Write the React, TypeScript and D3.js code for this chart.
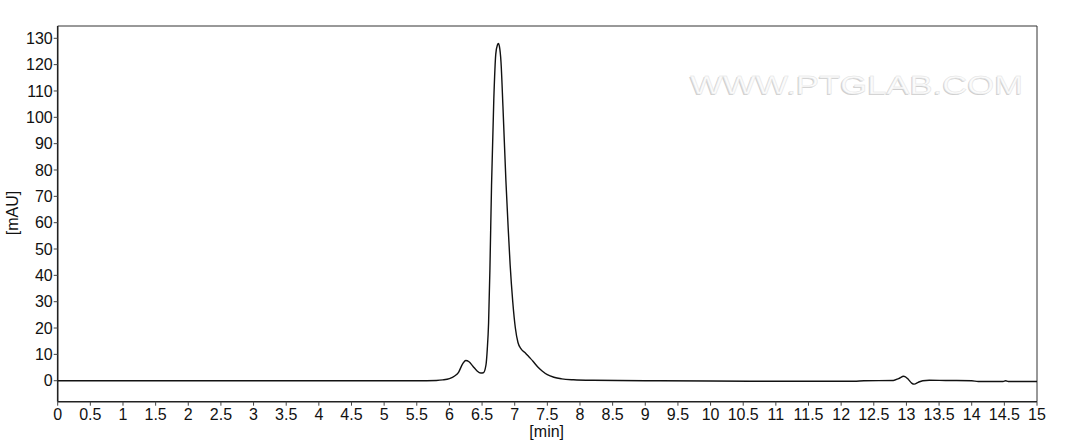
import React from "react";
import * as d3 from "d3";

const times = [0, 5.5, 5.8, 5.9, 6.0, 6.08, 6.14, 6.2, 6.25, 6.3, 6.36, 6.42, 6.48, 6.52, 6.56, 6.58, 6.6, 6.62, 6.645, 6.68, 6.71, 6.735, 6.75, 6.765, 6.79, 6.82, 6.865, 6.9, 6.93, 6.97, 7.01, 7.05, 7.1, 7.16, 7.22, 7.28, 7.35, 7.42, 7.5, 7.6, 7.72, 7.9, 8.2, 9, 10, 10.6, 12.2, 12.35, 12.8, 12.88, 12.96, 13.03, 13.08, 13.12, 13.18, 13.25, 13.35, 13.6, 14.0, 14.1, 14.48, 14.52, 14.56, 15];
const signal = [0, 0, 0.1, 0.3, 0.8, 1.8, 3.2, 6.3, 7.7, 7.2, 5.5, 3.8, 2.9, 3.0, 6, 12, 22, 42, 74, 107, 124, 127.5, 128, 127, 121, 104, 76, 58, 44, 30, 20, 14.5, 12, 10.6, 9, 7.4, 5.3, 3.7, 2.3, 1.3, 0.7, 0.35, 0.15, 0, -0.1, -0.2, -0.2, 0, 0.1, 0.8, 1.7, 0.5, -0.9, -1.3, -0.6, 0, 0.2, 0.1, 0, -0.3, -0.3, 0, -0.3, -0.3];

const xTicks = d3.range(0, 15.01, 0.5);
const yTicks = d3.range(0, 131, 10);
const xLabel = "[min]";
const yLabel = "[mAU]";
const watermark = "WWW.PTGLAB.COM";

const W = 1072;
const H = 447;
const L = 57.7;
const R = 1037;
const T = 26;
const B = 401.7;

export default function App() {
  const x = d3.scaleLinear().domain([0, 15]).range([L, R]);
  const y = d3.scaleLinear().domain([-7.97, 134.67]).range([B, T]);
  const pts: [number, number][] = times.map((t, i) => [t, signal[i]]);
  const line = d3
    .line<[number, number]>()
    .x((d) => x(d[0]))
    .y((d) => y(d[1]))
    .curve(d3.curveMonotoneX);
  const font = "'Liberation Sans', Arial, sans-serif";
  return (
    <svg
      width={W}
      height={H}
      style={{ position: "absolute", left: 0, top: 0, background: "#fff" }}
      fontFamily={font}
    >
      <rect x={0} y={0} width={W} height={H} fill="#fff" />
      {/* watermark */}
      <text x={689} y={95} fontSize={26} fill="#cfcfcf" textLength={333} lengthAdjust="spacingAndGlyphs">
        {watermark}
      </text>
      <text x={690.2} y={94} fontSize={26} fill="#fbfbfb" stroke="#e2e2e2" strokeWidth={0.4} textLength={333} lengthAdjust="spacingAndGlyphs">
        {watermark}
      </text>
      {/* frame */}
      <line x1={L} x2={R} y1={T} y2={T} stroke="#333" strokeWidth={1} />
      <line x1={R} x2={R} y1={T} y2={B} stroke="#333" strokeWidth={1} />
      <line x1={L} x2={L} y1={T} y2={B} stroke="#222" strokeWidth={1.6} />
      <line x1={L} x2={R} y1={B} y2={B} stroke="#222" strokeWidth={1.6} />
      {/* y ticks */}
      {yTicks.map((v) => (
        <g key={"y" + v}>
          <line x1={L - 4} x2={L} y1={y(v)} y2={y(v)} stroke="#444" strokeWidth={1} />
          <text x={L - 5} y={y(v)} dy="0.36em" textAnchor="end" fontSize={16} fill="#111">
            {v}
          </text>
        </g>
      ))}
      {/* x ticks */}
      {xTicks.map((v) => (
        <g key={"x" + v}>
          <line x1={x(v)} x2={x(v)} y1={B} y2={B + 4} stroke="#444" strokeWidth={1} />
          <text x={x(v)} y={420} textAnchor="middle" fontSize={16} fill="#111">
            {String(v)}
          </text>
        </g>
      ))}
      <text x={546.7} y={437} textAnchor="middle" fontSize={16} fill="#111">
        {xLabel}
      </text>
      <text
        transform={`translate(18,213) rotate(-90)`}
        textAnchor="middle"
        fontSize={16}
        fill="#111"
      >
        {yLabel}
      </text>
      <path d={line(pts) || ""} fill="none" stroke="#111" strokeWidth={1.4} strokeLinejoin="round" />
    </svg>
  );
}
